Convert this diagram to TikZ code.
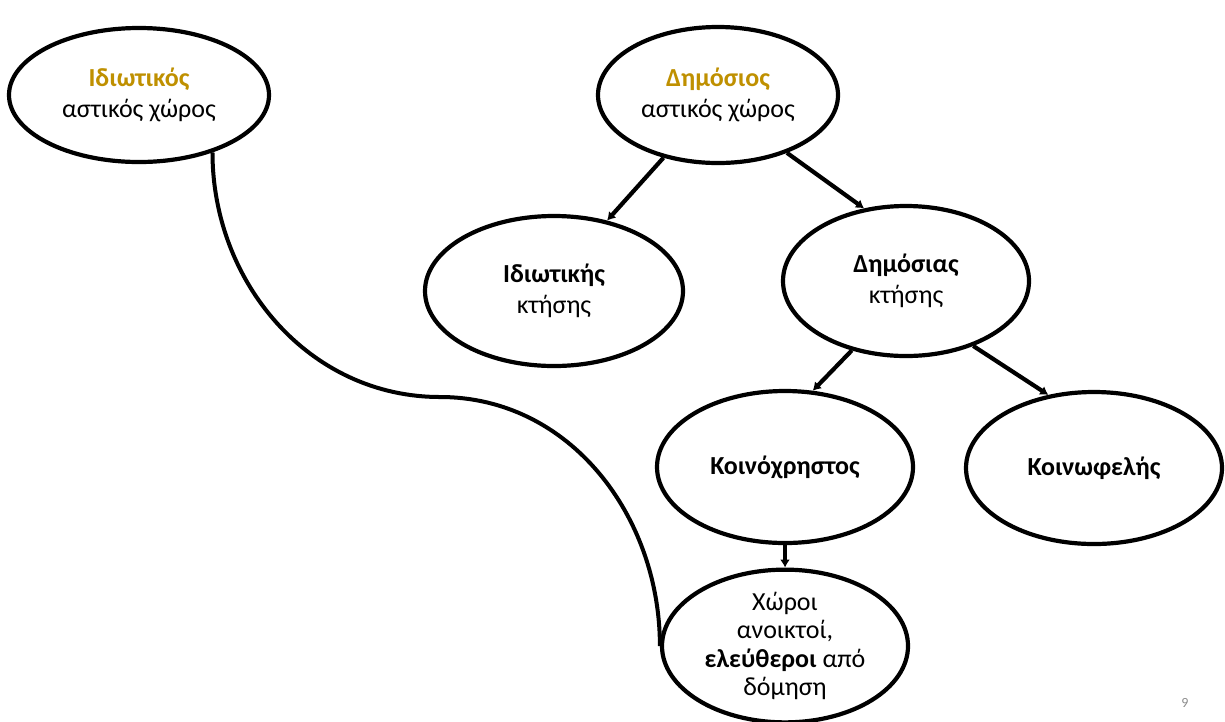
\documentclass[tikz,border=0pt]{standalone}
\usepackage{fontspec}
\setmainfont{Carlito}
\usepackage{tikz}
\usetikzlibrary{shapes,arrows.meta,positioning}
\definecolor{gold}{RGB}{191, 144, 0}
\definecolor{pagegray}{RGB}{140, 140, 140}
\tikzstyle{zone} = [ellipse, draw=black, line width=4.2pt, fill=white, text=black, align=center, inner sep=0pt, font=\fontsize{26}{31}\selectfont]
\tikzstyle{tedge}  = [draw, line width=4.2pt, -{Latex[length=8pt,width=10pt]}]
\tikzstyle{curve}  = [draw, line width=4pt]
\tikzstyle{pagenum} = [text=pagegray, font=\fontsize{14}{16}\selectfont]

\begin{document}
\begin{tikzpicture}[auto, on grid]

\useasboundingbox (0,0) rectangle (1225pt,-721pt);

% ellipses =============================

% urban space
\node[zone, minimum width=260pt, minimum height=134pt] (priv) at (139pt,-95pt) {\textcolor{gold}{\textbf{Ιδιωτικός}}\\αστικός χώρος};
\node[zone, minimum width=240pt, minimum height=136pt, right=579pt of priv] (pub) {\textcolor{gold}{\textbf{Δημόσιος}}\\αστικός χώρος};

% ownership
\node[zone, minimum width=258pt, minimum height=150pt, below left=196pt and 164pt of pub] (own1) {\textbf{Ιδιωτικής}\\κτήσης};
\node[zone, minimum width=246pt, minimum height=150pt, below right=186pt and 188pt of pub] (own2) {\textbf{Δημόσιας}\\κτήσης};

% use
\node[zone, minimum width=256pt, minimum height=152pt, below left=186pt and 121pt of own2] (common) {\textbf{Κοινόχρηστος}};
\node[zone, minimum width=256pt, minimum height=152pt, below right=187pt and 188pt of own2] (welfare) {\textbf{Κοινωφελής}};

% open spaces
\node[zone, minimum width=246pt, minimum height=152pt, below=179pt of common, font=\fontsize{26}{28.5}\selectfont] (open) {Χώροι\\ανοικτοί,\\\textbf{ελεύθεροι} από\\δόμηση};

\coordinate (bend) at (440pt,-397pt);

\node[pagenum] (num) at (1185pt,-703pt) {9};

%edges
\path[tedge] (pub.-131) -- (own1.53);
\path[tedge] (pub.-40) -- (own2.120);
\path[tedge] (own2.-128) -- (common.70);
\path[tedge] (own2.-44) -- (welfare.122);
\path[tedge] (common.south) -- (open.north);

\path[curve] (priv.-38) to[out=-90,in=180] (bend) to[out=0,in=90] (open.west);

\end{tikzpicture}
\end{document}
